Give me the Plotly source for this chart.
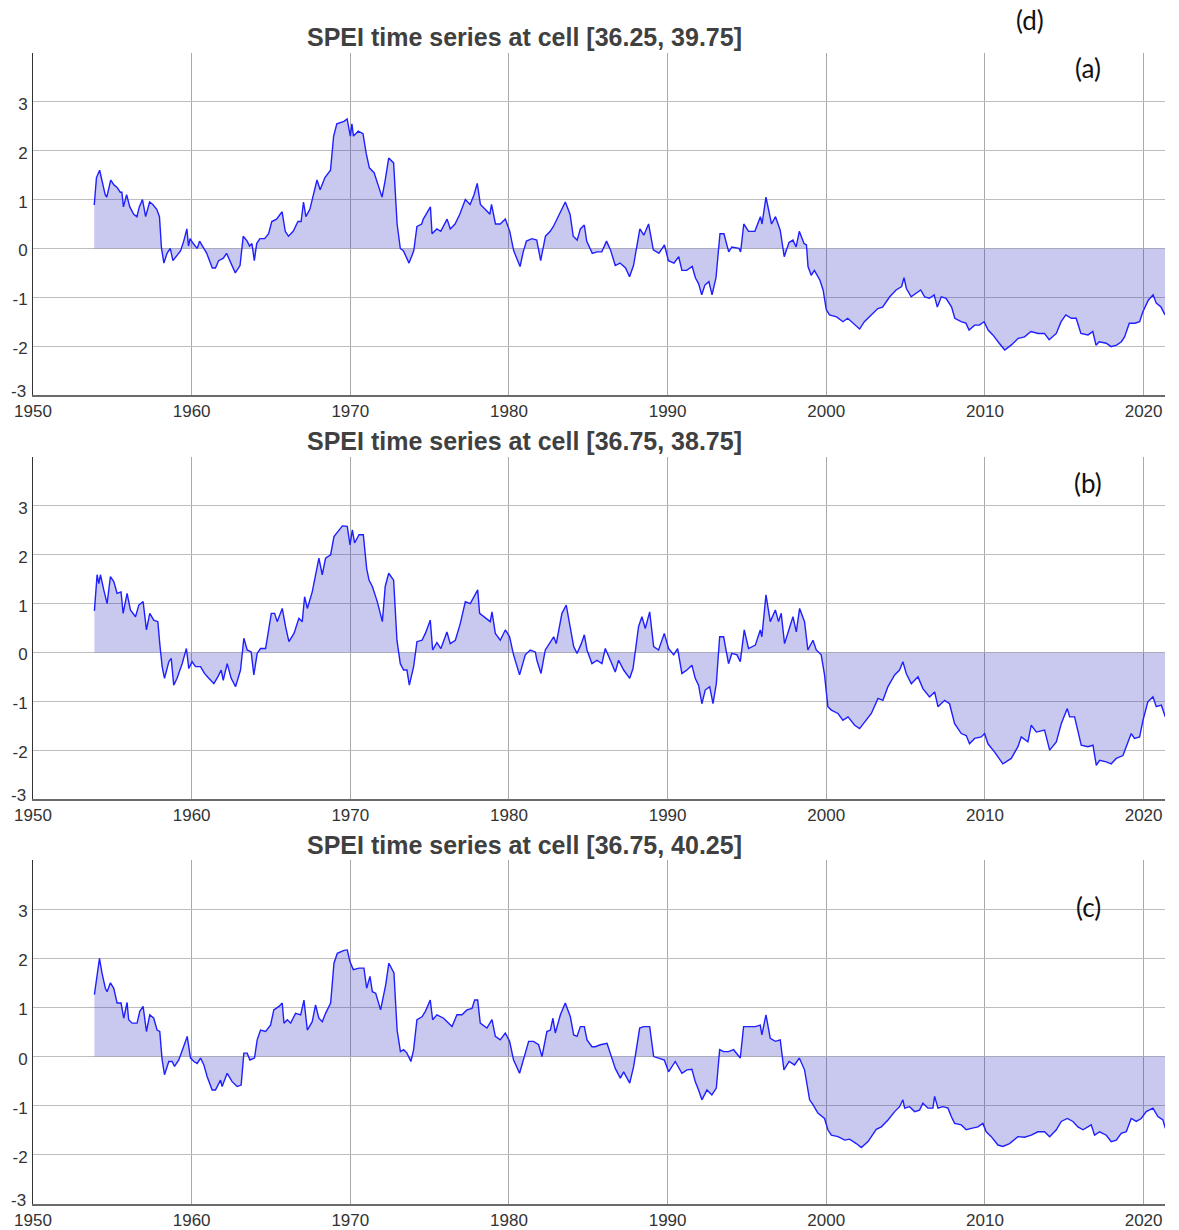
import plotly.graph_objects as go

# ---------------- data (decimal years, SPEI values) -------------
years_a = [1953.86,1954.00,1954.20,1954.55,1954.65,1954.90,1955.10,1955.30,1955.50,1955.60,1955.70,1955.90,
1956.10,1956.35,1956.55,1956.70,1956.90,1957.10,1957.35,1957.55,1957.80,1957.97,1958.10,1958.25,1958.45,
1958.65,1958.82,1959.07,1959.30,1959.50,1959.70,1959.80,1959.90,1960.10,1960.35,1960.50,1960.70,1960.95,
1961.30,1961.50,1961.70,1962.00,1962.20,1962.45,1962.75,1963.05,1963.25,1963.50,1963.65,1963.80,1963.95,
1964.10,1964.30,1964.60,1964.85,1965.05,1965.35,1965.70,1965.90,1966.10,1966.40,1966.70,1966.90,1967.05,
1967.20,1967.45,1967.90,1968.10,1968.40,1968.75,1968.95,1969.15,1969.60,1969.80,1970.00,1970.10,1970.20,
1970.50,1970.80,1971.00,1971.20,1971.50,1972.00,1972.20,1972.42,1972.73,1972.95,1973.15,1973.35,1973.70,
1974.00,1974.20,1974.50,1974.60,1975.05,1975.15,1975.45,1975.70,1976.10,1976.30,1976.60,1976.90,1977.25,
1977.55,1977.80,1978.00,1978.20,1978.50,1978.80,1978.90,1979.15,1979.45,1979.77,1980.05,1980.30,1980.70,
1980.90,1981.10,1981.45,1981.75,1982.00,1982.30,1982.60,1982.80,1983.25,1983.55,1983.85,1984.05,1984.30,
1984.50,1984.75,1984.90,1985.25,1985.55,1985.85,1986.15,1986.40,1986.70,1987.00,1987.35,1987.60,1987.85,
1988.25,1988.50,1988.80,1989.10,1989.45,1989.80,1990.05,1990.40,1990.70,1990.90,1991.20,1991.55,1991.75,
1991.95,1992.15,1992.35,1992.60,1992.80,1993.05,1993.30,1993.55,1993.85,1994.05,1994.50,1994.60,1994.80,
1995.10,1995.50,1995.85,1995.95,1996.20,1996.35,1996.55,1996.80,1997.10,1997.35,1997.65,1997.90,1998.10,
1998.30,1998.60,1998.75,1998.85,1999.05,1999.25,1999.60,1999.80,2000.00,2000.20,2000.65,2001.05,2001.35,
2001.80,2002.10,2002.40,2002.85,2003.25,2003.55,2004.00,2004.40,2004.75,2004.90,2005.05,2005.35,2005.65,
2005.95,2006.20,2006.50,2006.80,2007.00,2007.25,2007.55,2007.90,2008.10,2008.50,2008.80,2009.00,2009.35,
2009.65,2009.95,2010.20,2010.50,2010.90,2011.25,2011.65,2012.10,2012.50,2012.90,2013.35,2013.75,2014.05,
2014.50,2014.80,2015.10,2015.45,2015.75,2016.05,2016.50,2016.80,2017.00,2017.20,2017.65,2017.95,2018.30,
2018.60,2018.80,2019.10,2019.45,2019.75,2019.95,2020.30,2020.60,2020.80,2021.10,2021.35]
spei_a = [0.89,1.45,1.60,1.10,1.05,1.40,1.30,1.25,1.15,1.15,0.85,1.10,
0.85,0.70,0.65,0.85,1.00,0.65,0.95,0.90,0.80,0.65,0.00,-0.30,-0.10,
0.00,-0.25,-0.15,-0.05,0.15,0.40,0.05,0.20,0.10,0.00,0.15,0.05,-0.10,
-0.40,-0.40,-0.25,-0.20,-0.10,-0.30,-0.50,-0.35,0.25,0.15,0.05,0.10,-0.25,
0.10,0.20,0.20,0.30,0.55,0.60,0.75,0.35,0.25,0.35,0.55,0.55,0.95,
0.65,0.80,1.40,1.20,1.45,1.60,2.30,2.55,2.60,2.65,2.30,2.55,2.30,
2.40,2.35,1.95,1.65,1.55,1.05,1.40,1.85,1.75,0.50,0.00,-0.05,-0.30,
-0.05,0.45,0.50,0.60,0.85,0.30,0.40,0.35,0.60,0.40,0.50,0.70,1.00,
0.90,1.10,1.33,0.90,0.80,0.70,0.90,0.50,0.50,0.60,0.35,-0.05,-0.37,
-0.07,0.15,0.20,0.17,-0.25,0.25,0.35,0.45,0.75,0.95,0.70,0.25,0.17,
0.40,0.48,0.15,-0.10,-0.07,-0.07,0.15,-0.03,-0.35,-0.30,-0.40,-0.58,-0.35,
0.40,0.27,0.50,-0.03,-0.10,0.07,-0.25,-0.30,-0.17,-0.45,-0.45,-0.37,-0.60,
-0.72,-0.95,-0.75,-0.68,-0.95,-0.60,0.30,0.30,-0.07,0.03,0.00,-0.07,0.50,
0.35,0.35,0.65,0.50,1.05,0.80,0.50,0.65,0.37,-0.17,0.12,0.17,0.03,
0.35,0.10,0.07,-0.37,-0.55,-0.45,-0.65,-0.85,-1.25,-1.36,-1.40,-1.50,-1.43,
-1.57,-1.65,-1.50,-1.36,-1.23,-1.20,-0.99,-0.85,-0.78,-0.60,-0.82,-0.99,-0.92,
-0.85,-0.99,-1.02,-0.95,-1.20,-0.99,-1.02,-1.20,-1.43,-1.50,-1.53,-1.67,-1.57,
-1.57,-1.50,-1.67,-1.77,-1.94,-2.08,-1.98,-1.84,-1.81,-1.70,-1.74,-1.74,-1.87,
-1.74,-1.50,-1.36,-1.43,-1.43,-1.74,-1.77,-1.70,-1.98,-1.91,-1.94,-2.01,-1.98,
-1.91,-1.81,-1.53,-1.53,-1.50,-1.30,-1.06,-0.95,-1.12,-1.20,-1.36]

years_b = [1953.87,1954.04,1954.15,1954.25,1954.46,1954.67,1954.88,1955.09,1955.30,1955.55,1955.68,1955.93,
1956.14,1956.46,1956.67,1956.94,1957.15,1957.36,1957.61,1957.87,1957.99,1958.14,1958.29,1958.56,1958.71,
1958.87,1959.08,1959.40,1959.67,1959.82,1960.03,1960.24,1960.56,1960.81,1961.08,1961.40,1961.65,1961.86,
1961.99,1962.24,1962.49,1962.77,1963.08,1963.29,1963.50,1963.75,1963.92,1964.13,1964.34,1964.66,1965.02,
1965.23,1965.39,1965.71,1965.92,1966.13,1966.45,1966.76,1966.97,1967.12,1967.29,1967.60,1968.02,1968.23,
1968.44,1968.76,1968.97,1969.22,1969.50,1969.81,1969.98,1970.13,1970.27,1970.55,1970.82,1971.03,1971.18,
1971.39,1971.70,1972.02,1972.20,1972.42,1972.73,1972.94,1973.15,1973.36,1973.57,1973.72,1973.99,1974.20,
1974.52,1974.73,1975.04,1975.19,1975.46,1975.71,1976.09,1976.30,1976.62,1976.93,1977.25,1977.56,1977.77,
1978.03,1978.15,1978.51,1978.82,1978.93,1979.14,1979.45,1979.77,1980.04,1980.29,1980.67,1981.03,1981.34,
1981.66,1981.76,1982.02,1982.29,1982.61,1982.82,1982.98,1983.34,1983.61,1983.87,1984.08,1984.29,1984.56,
1984.75,1984.92,1985.23,1985.55,1985.86,1986.07,1986.39,1986.70,1986.91,1987.23,1987.61,1987.82,1988.17,
1988.38,1988.59,1988.87,1989.12,1989.43,1989.79,1990.06,1990.38,1990.63,1990.90,1991.22,1991.53,1991.74,
1991.95,1992.16,1992.37,1992.65,1992.86,1993.07,1993.28,1993.53,1993.84,1994.05,1994.37,1994.58,1994.83,
1995.10,1995.53,1995.84,1995.94,1996.20,1996.47,1996.79,1996.99,1997.16,1997.37,1997.69,1997.90,1998.11,
1998.32,1998.63,1998.84,1999.16,1999.37,1999.68,1999.89,2000.10,2000.32,2000.74,2001.05,2001.37,2001.79,
2002.10,2002.42,2002.84,2003.26,2003.57,2003.89,2004.31,2004.62,2004.83,2005.04,2005.36,2005.78,2006.09,
2006.51,2006.83,2007.04,2007.46,2007.77,2008.09,2008.51,2008.82,2009.03,2009.35,2009.77,2009.98,2010.19,
2010.61,2011.13,2011.66,2012.08,2012.29,2012.71,2012.92,2013.24,2013.76,2014.08,2014.50,2014.81,2015.19,
2015.34,2015.65,2016.07,2016.49,2016.81,2017.02,2017.23,2017.65,2017.96,2018.28,2018.70,2019.02,2019.22,
2019.43,2019.75,2019.96,2020.27,2020.59,2020.80,2021.12,2021.37]
spei_b = [0.85,1.59,1.41,1.59,1.28,1.00,1.55,1.45,1.21,1.24,0.80,1.21,
0.87,0.73,0.97,1.04,0.46,0.80,0.66,0.63,0.18,-0.29,-0.53,-0.19,-0.12,
-0.67,-0.53,-0.23,0.08,-0.33,-0.19,-0.29,-0.29,-0.43,-0.53,-0.64,-0.50,-0.36,
-0.57,-0.23,-0.53,-0.70,-0.36,0.29,0.05,0.01,-0.46,-0.02,0.08,0.08,0.80,
0.80,0.63,0.90,0.53,0.22,0.39,0.70,0.63,1.14,0.90,1.24,1.93,1.59,
1.93,2.00,2.37,2.47,2.59,2.58,2.20,2.51,2.24,2.41,2.41,1.72,1.48,
1.35,1.04,0.63,1.35,1.62,1.48,0.25,-0.23,-0.36,-0.36,-0.67,-0.29,0.22,
0.25,0.39,0.66,0.05,0.20,0.08,0.42,0.18,0.25,0.59,1.04,1.00,1.14,
1.28,0.80,0.70,0.63,0.83,0.39,0.25,0.46,0.32,-0.05,-0.46,-0.05,0.05,
0.01,-0.16,-0.43,0.05,0.22,0.32,0.18,0.80,0.97,0.49,0.12,-0.02,0.18,
0.36,0.05,-0.23,-0.16,-0.23,0.08,-0.16,-0.40,-0.16,-0.36,-0.53,-0.33,0.53,
0.73,0.49,0.83,0.12,0.05,0.39,0.08,-0.05,0.08,-0.43,-0.36,-0.26,-0.53,
-0.67,-1.05,-0.77,-0.70,-1.05,-0.64,0.32,0.32,-0.23,-0.02,-0.05,-0.19,0.46,
0.08,0.15,0.46,0.32,1.18,0.63,0.87,0.63,0.80,0.18,0.53,0.73,0.42,
0.90,0.63,0.05,0.25,0.05,-0.05,-0.46,-1.11,-1.18,-1.25,-1.39,-1.32,-1.49,
-1.56,-1.42,-1.25,-0.94,-0.98,-0.70,-0.46,-0.36,-0.19,-0.43,-0.64,-0.50,-0.74,
-0.91,-0.81,-1.11,-0.98,-1.05,-1.46,-1.66,-1.70,-1.87,-1.76,-1.73,-1.66,-1.87,
-2.04,-2.28,-2.17,-1.93,-1.73,-1.83,-1.49,-1.63,-1.59,-2.00,-1.83,-1.46,-1.15,
-1.32,-1.32,-1.90,-1.93,-1.90,-2.31,-2.21,-2.24,-2.28,-2.17,-2.11,-1.83,-1.66,
-1.76,-1.73,-1.39,-1.01,-0.91,-1.11,-1.08,-1.32]

years_c = [1953.87,1954.04,1954.19,1954.35,1954.56,1954.67,1954.88,1955.09,1955.30,1955.55,1955.72,1955.93,
1956.03,1956.25,1956.56,1956.73,1956.94,1957.15,1957.36,1957.61,1957.82,1957.99,1958.14,1958.29,1958.56,
1958.77,1958.92,1959.19,1959.40,1959.72,1959.93,1960.14,1960.35,1960.56,1960.77,1960.98,1961.29,1961.50,
1961.82,1961.92,1962.24,1962.55,1962.87,1963.12,1963.29,1963.50,1963.67,1963.96,1964.13,1964.34,1964.66,
1964.97,1965.18,1965.50,1965.71,1965.82,1966.03,1966.24,1966.55,1966.87,1967.08,1967.29,1967.60,1967.81,
1968.02,1968.23,1968.44,1968.76,1968.97,1969.18,1969.60,1969.81,1969.98,1970.19,1970.55,1970.86,1971.03,
1971.24,1971.39,1971.60,1971.91,1972.23,1972.43,1972.75,1972.95,1973.16,1973.36,1973.57,1973.82,1973.99,
1974.20,1974.52,1974.73,1975.04,1975.19,1975.46,1975.88,1976.20,1976.41,1976.72,1977.04,1977.35,1977.67,
1977.84,1978.03,1978.19,1978.61,1978.93,1979.14,1979.45,1979.77,1980.04,1980.29,1980.67,1980.92,1981.24,
1981.55,1981.87,1982.08,1982.39,1982.61,1982.77,1982.92,1983.24,1983.55,1983.87,1984.08,1984.29,1984.50,
1984.75,1984.92,1985.23,1985.44,1985.76,1986.18,1986.39,1986.70,1987.02,1987.23,1987.61,1987.86,1988.24,
1988.49,1988.87,1989.12,1989.43,1989.79,1990.06,1990.48,1990.90,1991.22,1991.53,1991.74,1991.95,1992.16,
1992.48,1992.79,1993.07,1993.28,1993.53,1993.84,1994.16,1994.58,1994.79,1995.10,1995.53,1995.84,1995.94,
1996.20,1996.47,1996.79,1997.10,1997.33,1997.66,1998.00,1998.30,1998.63,1998.80,1998.95,1999.16,1999.47,
1999.89,2000.10,2000.32,2000.74,2001.16,2001.47,2001.89,2002.21,2002.63,2003.15,2003.47,2003.89,2004.31,
2004.62,2004.83,2004.94,2005.25,2005.57,2005.88,2006.09,2006.41,2006.72,2006.83,2007.04,2007.35,2007.67,
2007.88,2008.09,2008.51,2008.82,2009.14,2009.56,2009.87,2010.08,2010.40,2010.82,2011.13,2011.55,2012.08,
2012.50,2012.92,2013.34,2013.76,2014.08,2014.50,2014.81,2015.19,2015.55,2015.86,2016.18,2016.70,2016.91,
2017.23,2017.65,2017.96,2018.28,2018.59,2018.91,2019.22,2019.54,2019.85,2020.17,2020.59,2020.90,2021.22,
2021.37]
spei_c = [1.26,1.63,2.00,1.70,1.39,1.32,1.50,1.39,1.09,1.09,0.78,1.10,
0.75,0.68,0.68,0.92,1.02,0.51,0.85,0.78,0.54,0.51,-0.07,-0.37,-0.10,
-0.10,-0.20,-0.07,0.14,0.41,-0.03,-0.10,-0.14,-0.03,-0.17,-0.41,-0.68,-0.68,
-0.48,-0.61,-0.34,-0.51,-0.61,-0.58,0.07,0.07,-0.07,-0.03,0.34,0.54,0.51,
0.64,0.95,1.02,1.09,0.68,0.75,0.68,0.88,0.85,1.15,0.54,0.71,1.05,
0.78,0.71,0.88,1.09,1.90,2.10,2.16,2.17,1.93,1.77,1.80,1.80,1.39,
1.63,1.32,1.29,0.95,1.46,1.90,1.70,0.54,0.10,0.14,0.07,-0.10,0.14,
0.75,0.81,0.92,1.15,0.75,0.85,0.78,0.68,0.61,0.85,0.85,0.95,0.98,
1.15,1.15,0.68,0.58,0.75,0.41,0.34,0.48,0.31,-0.07,-0.34,-0.07,0.31,
0.31,0.24,0.00,0.51,0.54,0.78,0.48,0.85,1.09,0.81,0.44,0.41,0.61,
0.61,0.34,0.20,0.20,0.24,0.27,0.07,-0.24,-0.44,-0.31,-0.54,-0.20,0.58,
0.61,0.61,0.00,-0.03,-0.07,-0.31,-0.10,-0.34,-0.27,-0.26,-0.51,-0.68,-0.88,
-0.68,-0.78,-0.64,0.14,0.10,0.10,0.14,-0.03,0.61,0.61,0.61,0.64,0.44,
0.85,0.37,0.31,0.34,-0.27,-0.10,-0.17,-0.03,-0.27,-0.61,-0.88,-0.98,-1.15,
-1.26,-1.49,-1.60,-1.63,-1.70,-1.68,-1.77,-1.85,-1.73,-1.48,-1.43,-1.29,-1.12,
-1.02,-0.88,-1.05,-1.02,-1.12,-1.09,-0.95,-1.05,-1.05,-0.81,-1.05,-1.02,-1.05,
-1.22,-1.36,-1.39,-1.49,-1.46,-1.43,-1.36,-1.53,-1.63,-1.80,-1.83,-1.77,-1.63,
-1.64,-1.60,-1.53,-1.53,-1.63,-1.49,-1.32,-1.26,-1.32,-1.43,-1.49,-1.39,-1.60,
-1.53,-1.60,-1.73,-1.70,-1.56,-1.53,-1.26,-1.32,-1.26,-1.12,-1.05,-1.22,-1.29,
-1.46]

titles = ["SPEI time series at cell [36.25, 39.75]",
          "SPEI time series at cell [36.75, 38.75]",
          "SPEI time series at cell [36.75, 40.25]"]
panel_labels = ["(a)", "(b)", "(c)"]
top_label = "(d)"

x_tickvals = [1950, 1960, 1970, 1980, 1990, 2000, 2010, 2020]
x_ticktext = ["1950", "1960", "1970", "1980", "1990", "2000", "2010", "2020"]
y_tickvals = [-2, -1, 0, 1, 2, 3]
y_ticktext = ["-2", "-1", "0", "1", "2", "3"]
y_bottom_value = -3
y_bottom_label = "-3"

# ---------------- figure ----------------
W, H = 1179, 1230
ML, MR, MT, MB = 33, 14, 53, 26
PW, PH = W - ML - MR, H - MT - MB

def py(p):  # pixel y -> paper fraction
    return (H - MB - p) / PH

def px(p):
    return (p - ML) / PW

domains = [[py(395), 1.0], [py(799), py(457)], [0.0, py(860)]]
series = [(years_a, spei_a), (years_b, spei_b), (years_c, spei_c)]

fig = go.Figure()
tick_font = dict(family="Liberation Sans, Arial, sans-serif", size=17, color="#333333")

annotations = []
for i, (xs, ys) in enumerate(series):
    k = "" if i == 0 else str(i + 1)
    fig.add_trace(go.Scatter(
        x=xs, y=ys, mode="lines", fill="tozeroy",
        line=dict(color="#1f1fff", width=1.4),
        fillcolor="rgba(40,40,190,0.25)",
        xaxis="x" + k, yaxis="y" + k, showlegend=False, hoverinfo="skip"))
    fig.layout["xaxis" + k] = dict(
        domain=[0, 1], anchor="y" + k, range=[1950, 2021.35], automargin=False,
        tickvals=x_tickvals, ticktext=x_ticktext, tickfont=tick_font,
        showgrid=True, gridcolor="#a9a9a9", gridwidth=1,
        showline=True, linecolor="#6a6a6a", linewidth=2,
        ticks="", ticklabelstandoff=0, zeroline=False)
    fig.layout["yaxis" + k] = dict(
        domain=domains[i], anchor="x" + k, range=[-3, 4], automargin=False,
        tickvals=y_tickvals, ticktext=y_ticktext, tickfont=tick_font,
        showgrid=True, gridcolor="#bdbdbd", gridwidth=1,
        showline=True, linecolor="#333333", linewidth=1,
        ticks="", ticklabelstandoff=1, ticklabelshift=2, zeroline=False)
    # bottom y label, lifted slightly above the axis line as in the reference
    annotations.append(dict(
        text=y_bottom_label, xref="x" + k + " domain", yref="y" + k,
        x=0, y=y_bottom_value, xanchor="right", yanchor="middle", xshift=-5, yshift=4,
        showarrow=False, font=tick_font))

title_y = [py(37), py(441), py(845)]
label_y = [py(68), py(483), py(907)]
for i in range(3):
    annotations.append(dict(
        text="<b>" + titles[i] + "</b>", xref="paper", yref="paper",
        x=px(524), y=title_y[i], xanchor="center", yanchor="middle", showarrow=False,
        font=dict(family="Liberation Sans, Arial, sans-serif", size=25, color="#404040")))
    annotations.append(dict(
        text=panel_labels[i], xref="paper", yref="paper",
        x=px(1088), y=label_y[i], xanchor="center", yanchor="middle", showarrow=False,
        font=dict(family="Lato, Open Sans, sans-serif", size=26, color="#111111")))
annotations.append(dict(
    text=top_label, xref="paper", yref="paper",
    x=px(1030), y=py(20), xanchor="center", yanchor="middle", showarrow=False,
    font=dict(family="Lato, Open Sans, sans-serif", size=26, color="#111111")))

fig.update_layout(
    width=W, height=H, autosize=False,
    margin=dict(l=ML, r=MR, t=MT, b=MB, pad=0),
    paper_bgcolor="white", plot_bgcolor="white",
    annotations=annotations, showlegend=False)

fig.write_html("out.html", config={"displayModeBar": False})
